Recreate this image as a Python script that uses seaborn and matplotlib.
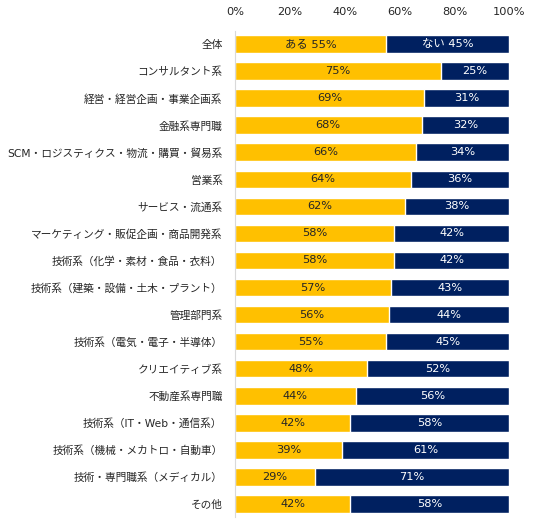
import numpy as np
import pandas as pd
import matplotlib
matplotlib.use("Agg")
import matplotlib.pyplot as plt
import seaborn as sns

# datos
categorias = [
    "全体", "コンサルタント系", "経営・経営企画・事業企画系", "金融系専門職",
    "SCM・ロジスティクス・物流・購買・貿易系", "営業系", "サービス・流通系",
    "マーケティング・販促企画・商品開発系", "技術系（化学・素材・食品・衣料）",
    "技術系（建築・設備・土木・プラント）", "管理部門系", "技術系（電気・電子・半導体）",
    "クリエイティブ系", "不動産系専門職", "技術系（IT・Web・通信系）",
    "技術系（機械・メカトロ・自動車）", "技術・専門職系（メディカル）", "その他",
]
aru = [55, 75, 69, 68, 66, 64, 62, 58, 58, 57, 56, 55, 48, 44, 42, 39, 29, 42]
nai = [45, 25, 31, 32, 34, 36, 38, 42, 42, 43, 44, 45, 52, 56, 58, 61, 71, 58]
ticks = [0, 20, 40, 60, 80, 100]

amarillo = "#FFC000"
azul = "#002060"

df = pd.DataFrame({"cat": categorias, "aru": aru, "nai": nai})
df["total"] = df["aru"] + df["nai"]

sns.set_style("white")
plt.rcParams["font.family"] = ["DejaVu Sans", "Noto Sans CJK JP"]

fig = plt.figure(figsize=(5.36, 5.29), dpi=100)
ax = fig.add_axes([0.4384, 0.0221, 0.5118, 0.9199])

sns.barplot(data=df, x="total", y="cat", orient="h", color=azul,
            width=0.655, saturation=1, ax=ax)
sns.barplot(data=df, x="aru", y="cat", orient="h", color=amarillo,
            width=0.655, saturation=1, ax=ax)

# etiquetas
for i, (a, n) in enumerate(zip(aru, nai)):
    ta = f"ある {a}%" if i == 0 else f"{a}%"
    tn = f"ない {n}%" if i == 0 else f"{n}%"
    ax.text(a / 2, i, ta, ha="center", va="center", fontsize=8.2, color="#262626")
    ax.text(a + n / 2, i, tn, ha="center", va="center", fontsize=8.2, color="white")

ax.set_xlim(0, 100)
ax.set_ylim(len(categorias) - 0.5, -0.5)
ax.set_xticks(ticks)
ax.set_xticklabels([f"{t}%" for t in ticks], fontsize=8.2, color="#262626")
ax.xaxis.tick_top()
ax.tick_params(axis="x", length=0, pad=10)
ax.tick_params(axis="y", length=0, pad=9, labelsize=7.7, labelcolor="#262626")
ax.set_xlabel("")
ax.set_ylabel("")
for s in ["top", "right", "bottom"]:
    ax.spines[s].set_visible(False)
ax.spines["left"].set_color("#D9D9D9")
ax.spines["left"].set_linewidth(0.8)

fig.savefig("out.png", dpi=100)
